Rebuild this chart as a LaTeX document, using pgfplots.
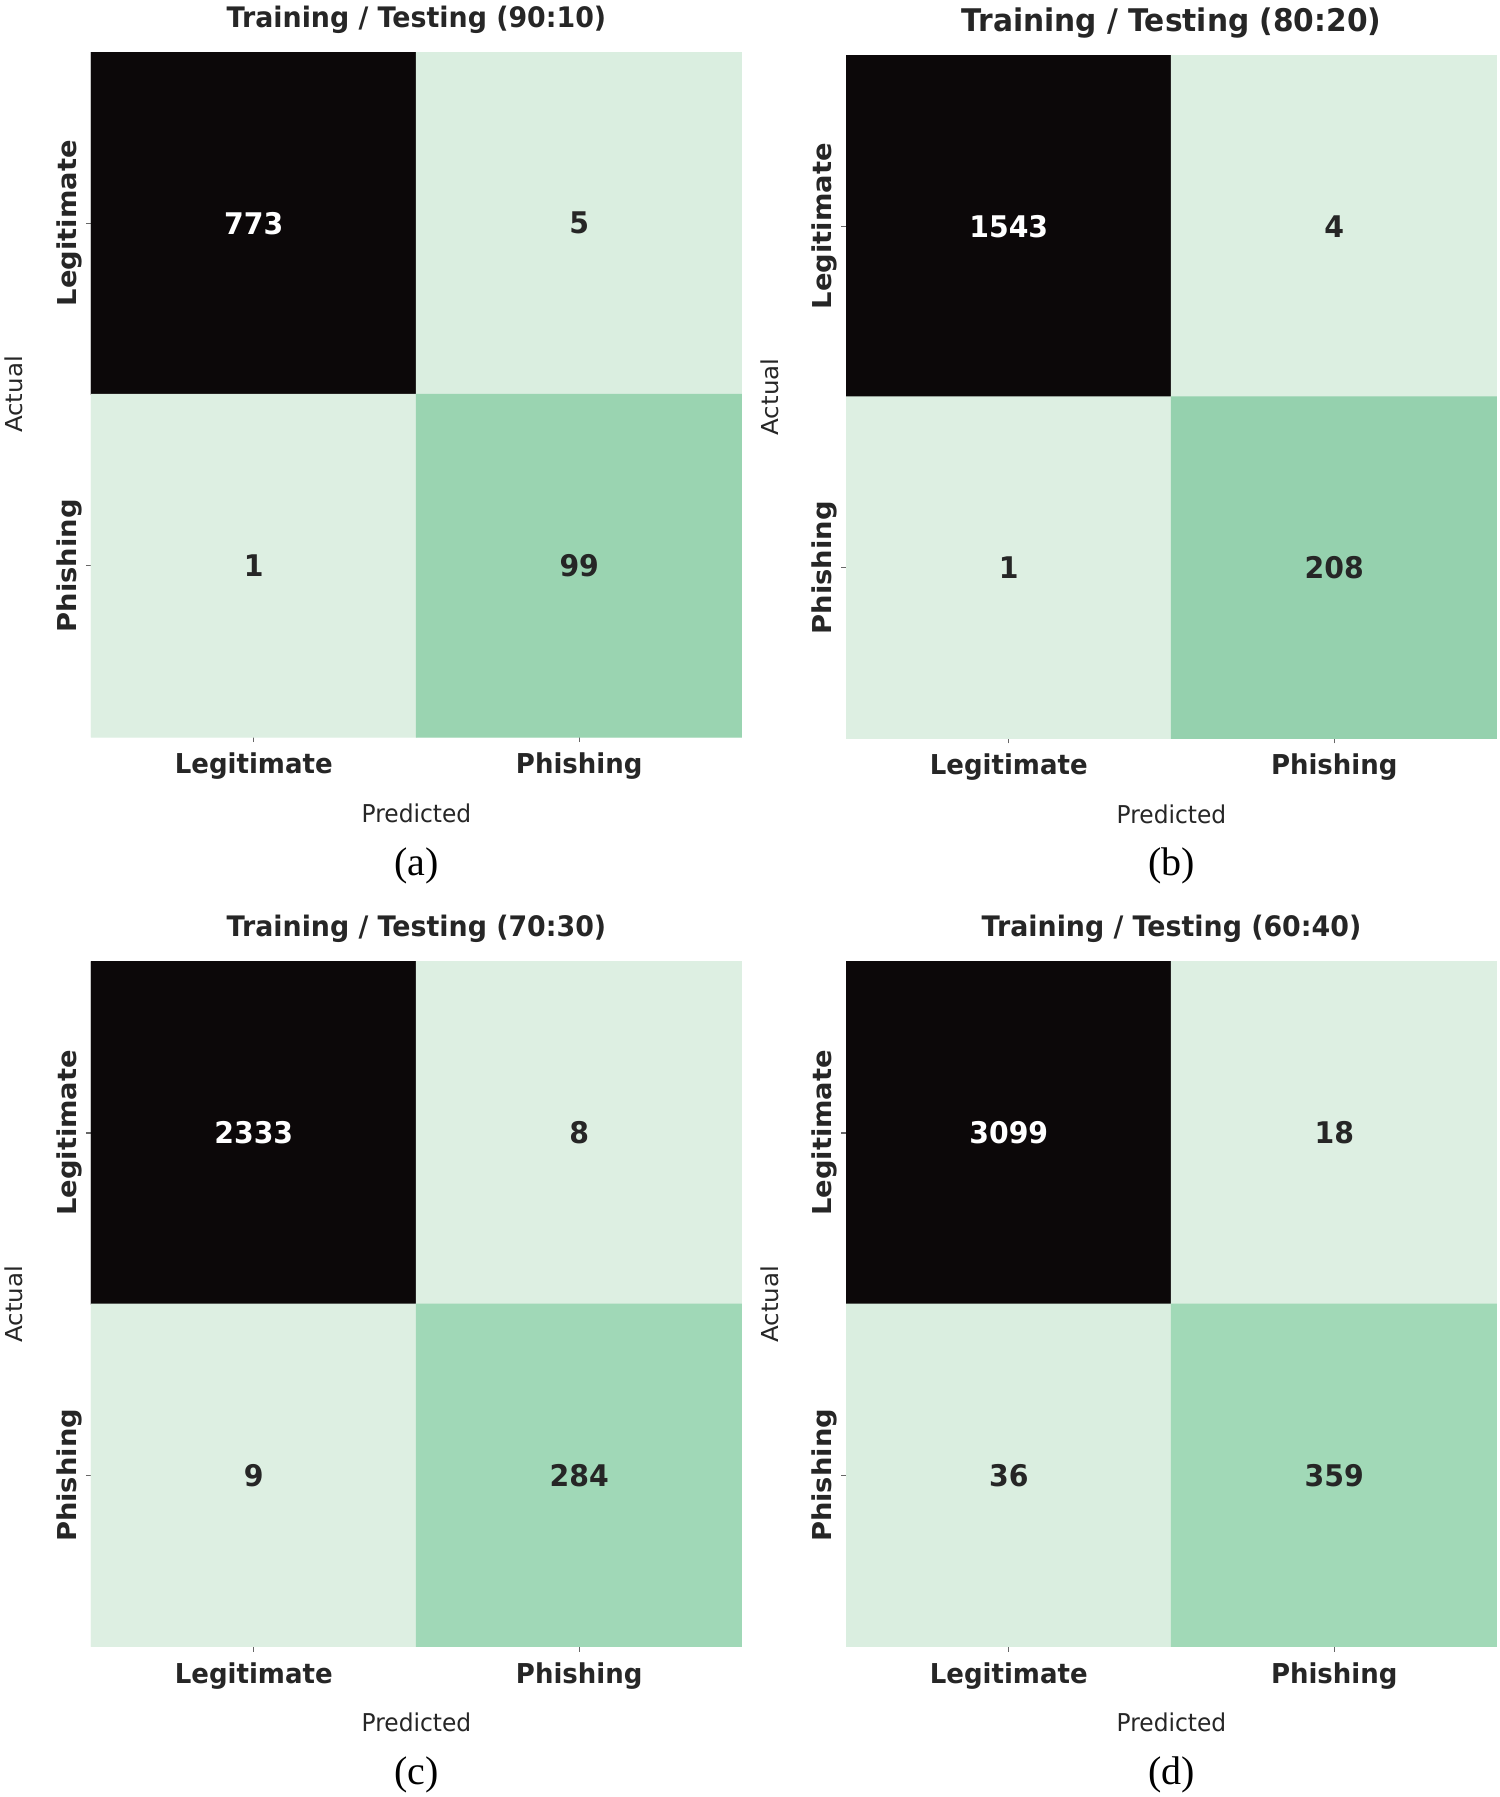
\documentclass[border=0pt]{standalone}
\usepackage{pgfplots}
\pgfplotsset{compat=1.18}
\usepackage{pgfplotstable}
\usepackage{fontspec}
\setmainfont{DejaVu Sans}
\newfontfamily\capfont{Liberation Serif}
\definecolor{txt}{RGB}{38,38,38}

\pgfplotstableread{
x y v w
0 0 773 1
1 0 5 0
0 1 1 0
1 1 99 0
}\tabA
\pgfplotstableread{
x y v w
0 0 1543 1
1 0 4 0
0 1 1 0
1 1 208 0
}\tabB
\pgfplotstableread{
x y v w
0 0 2333 1
1 0 8 0
0 1 9 0
1 1 284 0
}\tabC
\pgfplotstableread{
x y v w
0 0 3099 1
1 0 18 0
0 1 36 0
1 1 359 0
}\tabD

\pgfplotsset{
  cmpanel/.style={
    scale only axis, width=195.3pt, height=205.5pt,
    anchor=south west,
    xmin=-0.5, xmax=1.5, ymin=-0.5, ymax=1.5, y dir=reverse,
    enlargelimits=false,
    axis line style={draw=none},
    xtick={0,1}, ytick={0,1},
    xticklabels={Legitimate,Phishing}, yticklabels={Legitimate,Phishing},
    xtick pos=bottom, ytick pos=left,
    tick align=outside, major tick length=1.5pt,
    tick style={draw=txt!70, line width=0.4pt},
    tick label style={font=\bfseries\fontsize{7.8}{9}\selectfont, text=txt, inner sep=0pt, yscale=1.052},
    xticklabel style={anchor=north},
    yticklabel style={rotate=90, anchor=south},
    xticklabel shift=3pt, yticklabel shift=0.9pt,
    xlabel={Predicted}, ylabel={Actual},
    every axis x label/.style={at={(axis description cs:0.5,0)}, anchor=base, yshift=-25.5pt, yscale=1.052, font=\fontsize{7}{8}\selectfont, text=txt},
    every axis y label/.style={at={(axis description cs:0,0.5)}, xshift=-20.4pt, yscale=1.052, rotate=90, anchor=base, font=\fontsize{7}{8}\selectfont, text=txt},
    every axis title/.style={at={(axis description cs:0.5,1)}, anchor=base, yshift=7.5pt, yscale=1.052, font=\bfseries\fontsize{8.05}{9.5}\selectfont, text=txt},
  },
  cells/.style={matrix plot*, mesh/cols=2, point meta=explicit, draw=none},
  nums/.style={only marks, mark=none, point meta=explicit symbolic,
    visualization depends on={\thisrow{w} \as \tw},
    nodes near coords={\ifdim\tw pt>0.5pt\color{white}\else\color{txt}\fi\pgfplotspointmeta},
    nodes near coords align=center,
    every node near coord/.append style={font=\bfseries\fontsize{8.5}{10}\selectfont, inner sep=0pt, yscale=1.052}},
}

\begin{document}
\begin{tikzpicture}
\useasboundingbox (0,0) rectangle (450pt,539.1pt);

\begin{axis}[cmpanel, at={(27.3pt,318pt)}, title={Training / Testing (90:10)},
  colormap={cma}{rgb255(0)=(221,239,226) rgb255(98)=(154,212,177) rgb255(772)=(12,8,9)},
  point meta min=1, point meta max=773]
\addplot[cells] table[x=x,y=y,meta=v] {\tabA};
\addplot[nums] table[x=x,y=y,meta=v] {\tabA};
\end{axis}

\begin{axis}[cmpanel, at={(253.8pt,317.6pt)}, height=204.8pt, title={Training / Testing (80:20)},
  title style={font=\bfseries\fontsize{8.9}{10.5}\selectfont, yshift=-0.3pt},
  colormap={cmb}{rgb255(0)=(221,239,226) rgb255(207)=(149,209,174) rgb255(1542)=(12,8,9)},
  point meta min=1, point meta max=1543]
\addplot[cells] table[x=x,y=y,meta=v] {\tabB};
\addplot[nums] table[x=x,y=y,meta=v] {\tabB};
\end{axis}

\begin{axis}[cmpanel, at={(27.3pt,45.1pt)}, title={Training / Testing (70:30)},
  colormap={cmc}{rgb255(0)=(221,239,226) rgb255(276)=(160,216,183) rgb255(2325)=(12,8,9)},
  point meta min=8, point meta max=2333]
\addplot[cells] table[x=x,y=y,meta=v] {\tabC};
\addplot[nums] table[x=x,y=y,meta=v] {\tabC};
\end{axis}

\begin{axis}[cmpanel, at={(253.8pt,45.1pt)}, title={Training / Testing (60:40)},
  colormap={cmd}{rgb255(0)=(221,239,226) rgb255(341)=(161,217,183) rgb255(3081)=(12,8,9)},
  point meta min=18, point meta max=3099]
\addplot[cells] table[x=x,y=y,meta=v] {\tabD};
\addplot[nums] table[x=x,y=y,meta=v] {\tabD};
\end{axis}

\node[font=\capfont\fontsize{12}{14}\selectfont] at (124.95pt,279.2pt) {(a)};
\node[font=\capfont\fontsize{12}{14}\selectfont] at (351.45pt,279.2pt) {(b)};
\node[font=\capfont\fontsize{12}{14}\selectfont] at (124.95pt,6.6pt) {(c)};
\node[font=\capfont\fontsize{12}{14}\selectfont] at (351.45pt,6.6pt) {(d)};
\end{tikzpicture}
\end{document}
